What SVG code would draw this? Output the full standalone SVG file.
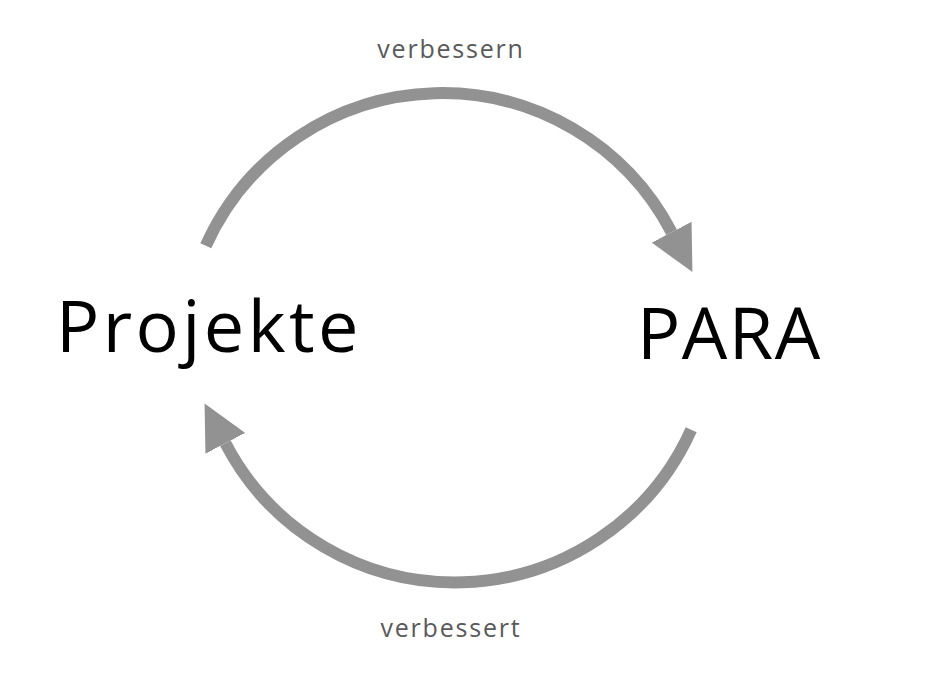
<svg xmlns="http://www.w3.org/2000/svg" width="927" height="699" viewBox="0 0 927 699">
  <style>
    .node { font-family: "Open Sans", "Noto Sans", sans-serif; fill: #000000; }
    .label { font-family: "Open Sans", "Noto Sans", sans-serif; font-size: 25px; fill: #595959; letter-spacing: 1.8px; }
    .arc { fill: none; stroke: #929292; stroke-width: 12; stroke-linecap: butt; marker-end: url(#arrow); }
  </style>
  <defs>
    <marker id="arrow" markerUnits="userSpaceOnUse" viewBox="0 0 45 45" refX="0" refY="22.5" markerWidth="45" markerHeight="45" orient="auto">
      <path d="M0,0 L45,22.5 L0,45 Z" fill="#929292"/>
    </marker>
  </defs>
  <rect width="927" height="699" fill="#ffffff"/>
  <g id="connectors">
    <g id="edge-projekte-para">
      <path class="arc" d="M205.8,245.8 A259,259 0 0 1 671.6,232.2"/>
      <text class="label" x="451" y="58" text-anchor="middle">verbessern</text>
    </g>
    <g id="edge-para-projekte">
      <path class="arc" d="M691.2,429.7 A259,259 0 0 1 225.4,443.3"/>
      <text class="label" x="451" y="637" text-anchor="middle">verbessert</text>
    </g>
  </g>
  <g id="node-projekte">
    <text class="node" x="56" y="352" font-size="72" letter-spacing="3.4">Projekte</text>
  </g>
  <g id="node-para">
    <text class="node" x="637" y="359" font-size="72" letter-spacing="1.5">PARA</text>
  </g>
</svg>
